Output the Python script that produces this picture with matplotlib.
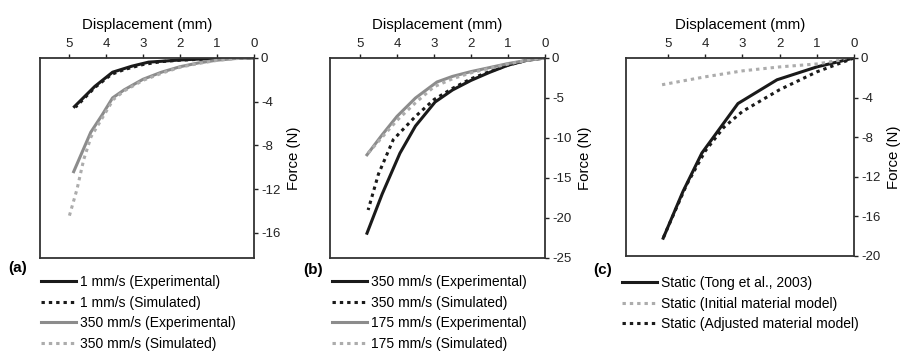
import numpy as np
import matplotlib
matplotlib.use("Agg")
import matplotlib.pyplot as plt

plt.rcParams['font.family'] = ['Liberation Sans', 'DejaVu Sans']
plt.rcParams['axes.unicode_minus'] = False

# === panel (a) data: displacement (mm) vs force (N) ===
a_exp1_x = [0, 0.5, 1, 1.5, 2, 2.5, 2.85, 3.3, 3.82, 4.3, 4.85]
a_exp1_y = [0, -0.02, -0.05, -0.1, -0.18, -0.3, -0.38, -0.75, -1.3, -2.6, -4.45]
a_sim1_x = [0, 1, 2, 2.5, 3, 3.5, 3.85, 4.3, 4.82]
a_sim1_y = [0, -0.05, -0.2, -0.33, -0.6, -1.05, -1.5, -2.7, -4.5]
a_exp350_x = [0, 0.5, 1, 1.5, 2, 2.5, 3, 3.5, 3.82, 4.1, 4.41, 4.87]
a_exp350_y = [0, -0.05, -0.2, -0.45, -0.8, -1.3, -1.95, -2.9, -3.65, -5.2, -6.8, -10.4]
a_sim350_x = [0, 0.5, 1, 1.5, 2, 2.5, 3, 3.5, 3.8, 4.1, 4.4, 4.6, 4.78, 5.0]
a_sim350_y = [0, -0.05, -0.22, -0.5, -0.85, -1.4, -2.05, -3.0, -3.8, -5.5, -7.2, -9.3, -12.0, -14.6]

# === panel (b) data ===
b_exp350_x = [0, 0.5, 1, 1.5, 2, 2.5, 2.97, 3.5, 3.92, 4.4, 4.81]
b_exp350_y = [0, -0.3, -0.9, -1.8, -2.8, -4.0, -5.5, -8.5, -11.9, -17.0, -21.9]
b_sim350_x = [0, 0.5, 1, 1.5, 2, 2.5, 3, 3.5, 4.1, 4.5, 4.78]
b_sim350_y = [0, -0.3, -0.9, -1.7, -2.6, -3.8, -5.2, -7.3, -10.2, -14.5, -19.0]
b_exp175_x = [0, 0.5, 1, 1.5, 2, 2.5, 2.92, 3.5, 4.0, 4.4, 4.81]
b_exp175_y = [0, -0.3, -0.7, -1.2, -1.7, -2.3, -3.0, -5.0, -7.3, -9.6, -12.1]
b_sim175_x = [0, 0.5, 1, 1.5, 2, 2.5, 3, 3.5, 4.0, 4.4, 4.8]
b_sim175_y = [0, -0.3, -0.75, -1.3, -1.85, -2.6, -3.6, -5.6, -7.8, -9.9, -12.0]

# === panel (c) data ===
c_tong_x = [0, 1, 2.07, 3.12, 4.09, 4.6, 5.13]
c_tong_y = [0, -0.9, -2.2, -4.6, -9.6, -13.5, -18.2]
c_init_x = [0, 0.5, 1, 2, 3, 4, 5.16]
c_init_y = [0, -0.3, -0.6, -0.9, -1.3, -1.9, -2.7]
c_adj_x = [0, 0.5, 1, 2, 3, 3.5, 4, 4.5, 5.12]
c_adj_y = [0, -0.7, -1.4, -3.2, -5.4, -7.0, -9.4, -12.8, -18.1]

BLACK = '#1a1a1a'
GRAY = '#8c8c8c'
LGRAY = '#acacac'
DOT = (0, (1.1, 1.3))

fig = plt.figure(figsize=(9.07, 3.51), dpi=100)
W, H = 907, 351


def make_axes(left, right, top, bottom):
    return fig.add_axes([left / W, 1 - bottom / H, (right - left) / W, (bottom - top) / H])


def style_axes(ax, xmax, ymin, yticks):
    ax.set_xlim(xmax, 0)
    ax.set_ylim(ymin, 0)
    ax.set_xticks([5, 4, 3, 2, 1, 0])
    ax.set_yticks(yticks)
    ax.xaxis.tick_top()
    ax.yaxis.tick_right()
    ax.xaxis.set_label_position('top')
    ax.yaxis.set_label_position('right')
    ax.tick_params(direction='out', length=3, width=1, pad=2, labelsize=9.5, colors='#222222')
    ax.tick_params(axis='x', pad=3)
    ax.set_xlabel('Displacement (mm)', fontsize=10.8, labelpad=6)
    ax.set_ylabel('Force (N)', fontsize=10.8, labelpad=5)
    for s in ax.spines.values():
        s.set_color('#333333')
        s.set_linewidth(1.3)


def add_legend(ax, x, y):
    ax.legend(loc='upper left', bbox_to_anchor=(x / W, 1 - y / H), bbox_transform=fig.transFigure,
              frameon=False, borderpad=0, borderaxespad=0, handlelength=2.5, handletextpad=0.3,
              labelspacing=0.47, fontsize=10)


# --- (a) ---
ax_a = make_axes(40, 254, 58, 258)
ax_a.plot(a_exp1_x, a_exp1_y, color=BLACK, lw=2.2, label='1 mm/s (Experimental)')
ax_a.plot(a_sim1_x, a_sim1_y, color=BLACK, lw=2.2, ls=DOT, label='1 mm/s (Simulated)')
ax_a.plot(a_exp350_x, a_exp350_y, color=GRAY, lw=2.2, label='350 mm/s (Experimental)')
ax_a.plot(a_sim350_x, a_sim350_y, color=LGRAY, lw=2.2, ls=DOT, label='350 mm/s (Simulated)')
style_axes(ax_a, 5.78, -18.3, [0, -4, -8, -12, -16])
add_legend(ax_a, 41, 275)
fig.text(8 / W, 1 - 268 / H, '(a)', fontsize=11, fontweight='bold', va='center')

# --- (b) ---
ax_b = make_axes(330, 545, 58, 258)
ax_b.plot(b_exp350_x, b_exp350_y, color=BLACK, lw=2.2, label='350 mm/s (Experimental)')
ax_b.plot(b_sim350_x, b_sim350_y, color=BLACK, lw=2.2, ls=DOT, label='350 mm/s (Simulated)')
ax_b.plot(b_exp175_x, b_exp175_y, color=GRAY, lw=2.2, label='175 mm/s (Experimental)')
ax_b.plot(b_sim175_x, b_sim175_y, color=LGRAY, lw=2.2, ls=DOT, label='175 mm/s (Simulated)')
style_axes(ax_b, 5.81, -25, [0, -5, -10, -15, -20, -25])
add_legend(ax_b, 332, 275)
fig.text(303 / W, 1 - 270 / H, '(b)', fontsize=11, fontweight='bold', va='center')

# --- (c) ---
ax_c = make_axes(626, 854, 58, 256)
ax_c.plot(c_tong_x, c_tong_y, color=BLACK, lw=2.2, label='Static (Tong et al., 2003)')
ax_c.plot(c_init_x, c_init_y, color=LGRAY, lw=2.2, ls=DOT, label='Static (Initial material model)')
ax_c.plot(c_adj_x, c_adj_y, color=BLACK, lw=2.2, ls=DOT, label='Static (Adjusted material model)')
style_axes(ax_c, 6.13, -20, [0, -4, -8, -12, -16, -20])
add_legend(ax_c, 622, 276)
fig.text(593 / W, 1 - 270 / H, '(c)', fontsize=11, fontweight='bold', va='center')

fig.savefig('out.png', dpi=100)
